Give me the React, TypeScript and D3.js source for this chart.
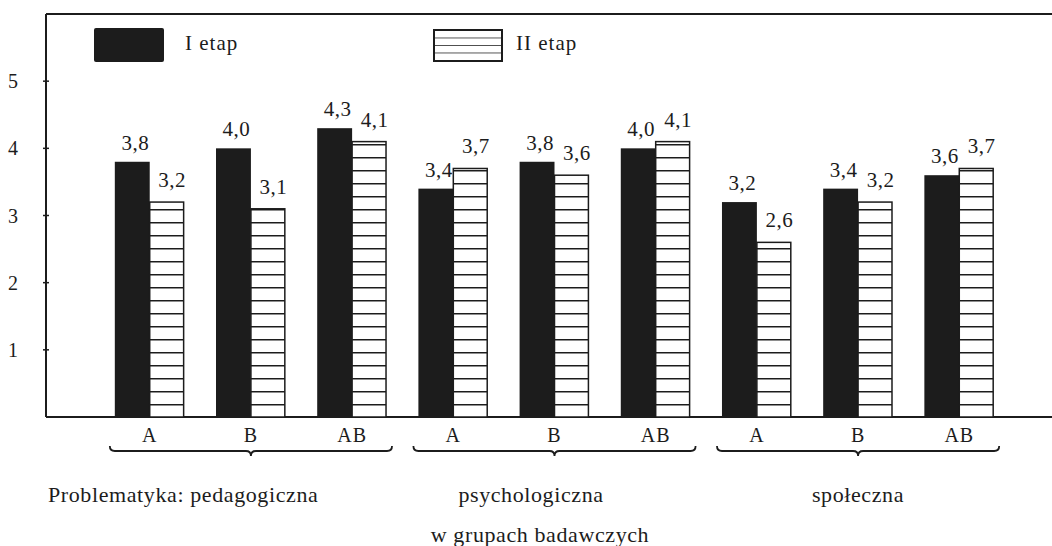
import React from 'react';
import { scaleBand, scaleLinear } from 'd3';

const groups = ['Problematyka: pedagogiczna', 'psychologiczna', 'społeczna'];
const subgroups = ['A', 'B', 'AB'];
const etap1 = [3.8, 4.0, 4.3, 3.4, 3.8, 4.0, 3.2, 3.4, 3.6];
const etap2 = [3.2, 3.1, 4.1, 3.7, 3.6, 4.1, 2.6, 3.2, 3.7];
const yTicks = [1, 2, 3, 4, 5];
const seriesNames = ['I etap', 'II etap'];
const xTitle = 'w grupach badawczych';

const W = 1052;
const H = 546;
const left = 46;
const top = 14;
const bottom = 417;
const ink = '#1c1c1c';
const font = '"Liberation Serif", "DejaVu Serif", serif';

const fmt = (v: number) => v.toFixed(1).replace('.', ',');

const App = () => {
  const keys = etap1.map((_, i) => String(i));
  const x = scaleBand<string>()
    .domain(keys)
    .range([left, 1063])
    .paddingInner(0.31)
    .paddingOuter(0.68);
  const inner = scaleBand<string>().domain(seriesNames).range([0, x.bandwidth()]);
  const y = scaleLinear().domain([0, 6]).range([bottom, top]);

  const brace = (x0: number, x1: number, xm: number) => {
    const yt = 446;
    const yl = 451;
    const yb = 456;
    return `M${x0},${yt} Q${x0},${yl} ${x0 + 5},${yl} L${xm - 5},${yl} Q${xm},${yl} ${xm},${yb} Q${xm},${yl} ${xm + 5},${yl} L${x1 - 5},${yl} Q${x1},${yl} ${x1},${yt}`;
  };

  // title x positions: first group left aligned, others centred under the brace tip
  const titleX = [48, 531, 858];

  return (
    <svg
      width={W}
      height={H}
      style={{ position: 'absolute', left: 0, top: 0, background: '#fff' }}
      fontFamily={font}
    >
      <defs>
        <pattern id="hatch" patternUnits="userSpaceOnUse" width={8} height={13} y={bottom}>
          <rect width={8} height={13} fill="#fff" />
          <line x1={0} x2={8} y1={0.75} y2={0.75} stroke={ink} strokeWidth={1.5} />
        </pattern>
        <pattern id="hatchLegend" patternUnits="userSpaceOnUse" width={8} height={7.5} y={30}>
          <rect width={8} height={7.5} fill="#fff" />
          <line x1={0} x2={8} y1={0} y2={0} stroke={ink} strokeWidth={1.5} />
        </pattern>
      </defs>

      {/* frame */}
      <line x1={left} x2={W} y1={top} y2={top} stroke={ink} strokeWidth={2} />
      <line x1={left} x2={left} y1={top} y2={bottom} stroke={ink} strokeWidth={2} />
      <line x1={left} x2={W} y1={bottom} y2={bottom} stroke={ink} strokeWidth={2} />

      {/* y ticks */}
      {yTicks.map((t) => (
        <g key={t}>
          <line x1={left - 3} x2={left + 3} y1={y(t)} y2={y(t)} stroke={ink} strokeWidth={1.5} />
          <text x={13} y={y(t) + 7} fontSize={20} textAnchor="middle" fill={ink}>
            {t}
          </text>
        </g>
      ))}

      {/* legend */}
      <rect x={94} y={28} width={70} height={34} fill={ink} rx={2} />
      <text x={185} y={50} fontSize={21} letterSpacing={1} fill={ink}>
        {seriesNames[0]}
      </text>
      <rect x={434} y={30} width={68} height={31} fill="url(#hatchLegend)" stroke={ink} strokeWidth={2} />
      <text x={516} y={50} fontSize={21} letterSpacing={1} fill={ink}>
        {seriesNames[1]}
      </text>

      {/* bars */}
      {keys.map((k, i) => {
        const x0 = x(k) as number;
        const x1 = x0 + (inner(seriesNames[0]) as number);
        const x2 = x0 + (inner(seriesNames[1]) as number);
        const bw = inner.bandwidth();
        return (
          <g key={k}>
            <rect x={x1} y={y(etap1[i])} width={bw} height={bottom - y(etap1[i])} fill={ink} />
            <rect
              x={x2}
              y={y(etap2[i])}
              width={bw - 1}
              height={bottom - y(etap2[i])}
              fill="url(#hatch)"
              stroke={ink}
              strokeWidth={1.5}
            />
            <text x={x1 + bw / 2 + 3} y={y(etap1[i]) - 12} fontSize={21} letterSpacing={0.5} textAnchor="middle" fill={ink}>
              {fmt(etap1[i])}
            </text>
            <text x={x2 + bw / 2 + 5} y={y(etap2[i]) - 15} fontSize={21} letterSpacing={0.5} textAnchor="middle" fill={ink}>
              {fmt(etap2[i])}
            </text>
            <text x={x0 + x.bandwidth() / 2} y={442} fontSize={20} letterSpacing={1} textAnchor="middle" fill={ink}>
              {subgroups[i % 3]}
            </text>
          </g>
        );
      })}

      {/* group braces and titles */}
      {groups.map((g, gi) => {
        const first = x(keys[gi * 3]) as number;
        const last = (x(keys[gi * 3 + 2]) as number) + x.bandwidth();
        const mid = (x(keys[gi * 3 + 1]) as number) + x.bandwidth() / 2;
        return (
          <g key={g}>
            <path d={brace(first - 5, last + 5, mid)} fill="none" stroke={ink} strokeWidth={1.8} />
            <text
              x={titleX[gi]}
              y={502}
              fontSize={22}
              letterSpacing={0.6}
              textAnchor={gi === 0 ? 'start' : 'middle'}
              fill={ink}
            >
              {g}
            </text>
          </g>
        );
      })}
      <text x={540} y={542} fontSize={22} letterSpacing={0.6} textAnchor="middle" fill={ink}>
        {xTitle}
      </text>
    </svg>
  );
};

export default App;
